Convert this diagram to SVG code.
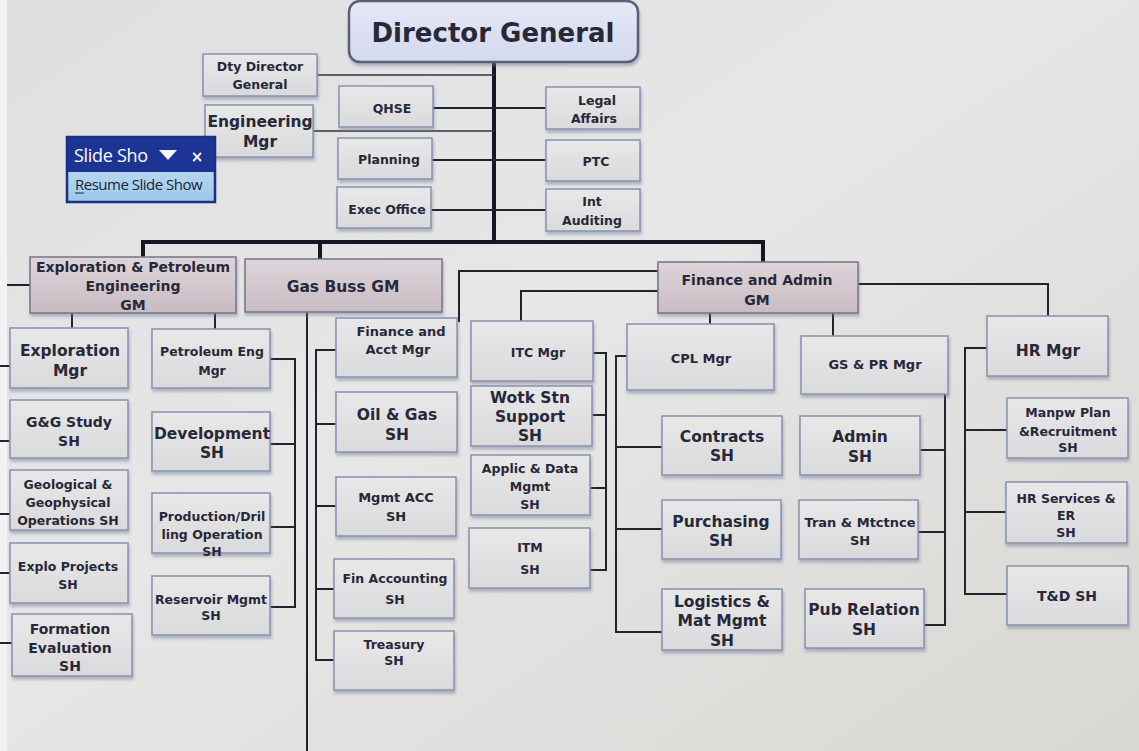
<svg xmlns="http://www.w3.org/2000/svg" width="1139" height="751" viewBox="0 0 1139 751">
  <defs>
    <linearGradient id="bg" x1="0" y1="0" x2="1" y2="1">
      <stop offset="0" stop-color="#dfdfe0"/>
      <stop offset="0.45" stop-color="#e7e7e7"/>
      <stop offset="1" stop-color="#d9d7d2"/>
    </linearGradient>
    <linearGradient id="boxFill" x1="0" y1="0" x2="0" y2="1">
      <stop offset="0" stop-color="#e8e8e9"/>
      <stop offset="1" stop-color="#dadadc"/>
    </linearGradient>
    <linearGradient id="gmFill" x1="0" y1="0" x2="0" y2="1">
      <stop offset="0" stop-color="#ddd5d9"/>
      <stop offset="1" stop-color="#c8bcc2"/>
    </linearGradient>
    <linearGradient id="dgFill" x1="0" y1="0" x2="0" y2="1">
      <stop offset="0" stop-color="#e6e8f6"/>
      <stop offset="1" stop-color="#d4d8ee"/>
    </linearGradient>
    <linearGradient id="popFill" x1="0" y1="0" x2="0" y2="1">
      <stop offset="0" stop-color="#d2e6f6"/>
      <stop offset="1" stop-color="#9cc8ea"/>
    </linearGradient>
    <filter id="shadow" x="-10%" y="-10%" width="120%" height="130%">
      <feDropShadow dx="1" dy="3" stdDeviation="1.5" flood-color="#6a7496" flood-opacity="0.45"/>
    </filter>
    <style>
      .box { fill: url(#boxFill); stroke: #8c96b2; stroke-width: 1.6; filter: url(#shadow); }
      .gm { fill: url(#gmFill); stroke: #7c7a8c; stroke-width: 1.6; filter: url(#shadow); }
      .t { font-family: "DejaVu Sans", Verdana, sans-serif; font-weight: bold; fill: #272838; text-anchor: middle; }
      .s { font-size: 12.5px; }
      .m { font-size: 14px; }
      .l { font-size: 15.5px; }
      .ln { fill: none; stroke: #22232e; stroke-width: 2; }
      .thin { fill: none; stroke: #33343e; stroke-width: 1.3; }
      .bold { fill: none; stroke: #161722; stroke-width: 4; }
    </style>
  </defs>

  <!-- backdrop -->
  <rect x="0" y="0" width="1139" height="751" fill="url(#bg)"/>
  <rect x="0" y="0" width="7" height="751" fill="#f2f2f2"/>

  <!-- connectors -->
  <g id="connectors">
    <!-- top spine and main bar -->
    <path class="bold" d="M494 62 V242"/>
    <path class="bold" d="M141 242 H765"/>
    <path class="bold" d="M143 240 V258 M320 240 V260 M763 240 V263"/>
    <!-- staff lines -->
    <path class="thin" d="M317 75 H494 M313 131 H494"/>
    <path class="ln" d="M433 108 H546 M432 160 H546 M431 210 H546"/>
    <!-- exploration GM -->
    <path class="ln" d="M7 285 H30 M72 313 V328 M215 313 V329"/>
    <path class="ln" d="M0 366 H10 M0 441 H10 M0 514 H10 M0 573 H10 M0 643 H12"/>
    <path class="ln" d="M270 359 H295 V607 H270 M270 444 H295 M270 527 H295"/>
    <!-- gas business -->
    <path class="ln" d="M307 312 V751"/>
    <path class="ln" d="M336 350 H316 V660 H334 M316 424 H336 M316 506 H336 M316 589 H334"/>
    <!-- finance and admin GM -->
    <path class="ln" d="M658 271 H459 V322 M658 291 H521 V321"/>
    <path class="ln" d="M858 284 H1048 V317"/>
    <path class="ln" d="M710 313 V324 M833 313 V336"/>
    <!-- ITC -->
    <path class="ln" d="M593 353 H606 V570 H590 M592 415 H606 M590 488 H606"/>
    <!-- CPL -->
    <path class="ln" d="M627 356 H616 V632 H662 M616 447 H662 M616 529 H662"/>
    <!-- GS and PR -->
    <path class="ln" d="M936 357 H945 V625 H924 M920 450 H945 M918 532 H945"/>
    <!-- HR -->
    <path class="ln" d="M987 348 H965 V594 H1007 M965 430 H1007 M965 512 H1006"/>
  </g>

  <!-- top level -->
  <g id="director-general">
    <rect x="349" y="1" width="289" height="61" rx="11" fill="url(#dgFill)" stroke="#5a6078" stroke-width="2.5" filter="url(#shadow)"/>
    <text class="t" x="493" y="42" font-size="26">Director General</text>
  </g>
  <g id="dty-director">
    <rect class="box" x="203" y="54" width="114" height="42"/>
    <text class="t s" x="260" y="71">Dty Director</text>
    <text class="t s" x="260" y="89">General</text>
  </g>
  <g id="engineering-mgr">
    <rect class="box" x="205" y="105" width="108" height="52"/>
    <text class="t l" x="260" y="127">Engineering</text>
    <text class="t l" x="260" y="147">Mgr</text>
  </g>
  <g id="qhse">
    <rect class="box" x="339" y="86" width="94" height="41"/>
    <text class="t s" x="392" y="113">QHSE</text>
  </g>
  <g id="planning">
    <rect class="box" x="338" y="138" width="94" height="41"/>
    <text class="t s" x="389" y="164">Planning</text>
  </g>
  <g id="exec-office">
    <rect class="box" x="337" y="187" width="94" height="41"/>
    <text class="t s" x="387" y="214">Exec Office</text>
  </g>
  <g id="legal-affairs">
    <rect class="box" x="546" y="87" width="94" height="42"/>
    <text class="t s" x="597" y="105">Legal</text>
    <text class="t s" x="594" y="123">Affairs</text>
  </g>
  <g id="ptc">
    <rect class="box" x="546" y="140" width="94" height="41"/>
    <text class="t s" x="596" y="166">PTC</text>
  </g>
  <g id="int-auditing">
    <rect class="box" x="546" y="189" width="94" height="42"/>
    <text class="t s" x="592" y="206">Int</text>
    <text class="t s" x="592" y="225">Auditing</text>
  </g>

  <!-- general managers -->
  <g id="exploration-gm">
    <rect class="gm" x="30" y="257" width="206" height="56"/>
    <text class="t m" x="133" y="272">Exploration &amp; Petroleum</text>
    <text class="t m" x="133" y="291">Engineering</text>
    <text class="t m" x="133" y="310">GM</text>
  </g>
  <g id="gas-buss-gm">
    <rect class="gm" x="245" y="259" width="197" height="53"/>
    <text class="t l" x="343" y="292">Gas Buss GM</text>
  </g>
  <g id="finance-admin-gm">
    <rect class="gm" x="658" y="262" width="200" height="51"/>
    <text class="t m" x="757" y="285">Finance and Admin</text>
    <text class="t m" x="757" y="305">GM</text>
  </g>

  <!-- exploration branch -->
  <g id="exploration-mgr">
    <rect class="box" x="10" y="328" width="118" height="60"/>
    <text class="t l" x="70" y="356">Exploration</text>
    <text class="t l" x="70" y="376">Mgr</text>
  </g>
  <g id="gg-study">
    <rect class="box" x="10" y="400" width="118" height="58"/>
    <text class="t m" x="69" y="427">G&amp;G Study</text>
    <text class="t m" x="69" y="446">SH</text>
  </g>
  <g id="geological-ops">
    <rect class="box" x="10" y="470" width="118" height="60"/>
    <text class="t s" x="68" y="489">Geological &amp;</text>
    <text class="t s" x="68" y="507">Geophysical</text>
    <text class="t s" x="68" y="525">Operations SH</text>
  </g>
  <g id="explo-projects">
    <rect class="box" x="10" y="543" width="118" height="60"/>
    <text class="t s" x="68" y="571">Explo Projects</text>
    <text class="t s" x="68" y="589">SH</text>
  </g>
  <g id="formation-evaluation">
    <rect class="box" x="12" y="614" width="120" height="62"/>
    <text class="t m" x="70" y="634">Formation</text>
    <text class="t m" x="70" y="653">Evaluation</text>
    <text class="t m" x="70" y="671">SH</text>
  </g>

  <!-- petroleum engineering branch -->
  <g id="petroleum-eng-mgr">
    <rect class="box" x="152" y="329" width="118" height="59"/>
    <text class="t s" x="212" y="356">Petroleum Eng</text>
    <text class="t s" x="212" y="375">Mgr</text>
  </g>
  <g id="development">
    <rect class="box" x="152" y="412" width="118" height="59"/>
    <text class="t l" x="212" y="439">Development</text>
    <text class="t l" x="212" y="458">SH</text>
  </g>
  <g id="production-drilling">
    <rect class="box" x="152" y="493" width="118" height="60"/>
    <text class="t s" x="212" y="521">Production/Dril</text>
    <text class="t s" x="212" y="539">ling Operation</text>
    <text class="t s" x="212" y="556">SH</text>
  </g>
  <g id="reservoir-mgmt">
    <rect class="box" x="152" y="576" width="118" height="59"/>
    <text class="t s" x="211" y="604">Reservoir Mgmt</text>
    <text class="t s" x="211" y="620" font-size="11px">SH</text>
  </g>

  <!-- gas business branch -->
  <g id="finance-acct-mgr">
    <rect class="box" x="336" y="318" width="121" height="59"/>
    <text class="t" x="401" y="336" font-size="13px">Finance and</text>
    <text class="t" x="398" y="354" font-size="13px">Acct Mgr</text>
  </g>
  <g id="oil-gas">
    <rect class="box" x="336" y="392" width="121" height="60"/>
    <text class="t l" x="397" y="420">Oil &amp; Gas</text>
    <text class="t l" x="397" y="440">SH</text>
  </g>
  <g id="mgmt-acc">
    <rect class="box" x="336" y="477" width="120" height="59"/>
    <text class="t" x="396" y="502" font-size="13px">Mgmt ACC</text>
    <text class="t" x="396" y="521" font-size="13px">SH</text>
  </g>
  <g id="fin-accounting">
    <rect class="box" x="334" y="559" width="120" height="59"/>
    <text class="t s" x="395" y="583">Fin Accounting</text>
    <text class="t s" x="395" y="604">SH</text>
  </g>
  <g id="treasury">
    <rect class="box" x="334" y="631" width="120" height="59"/>
    <text class="t s" x="394" y="649">Treasury</text>
    <text class="t s" x="394" y="665">SH</text>
  </g>

  <!-- ITC branch -->
  <g id="itc-mgr">
    <rect class="box" x="471" y="321" width="122" height="60"/>
    <text class="t s" x="538" y="357">ITC Mgr</text>
  </g>
  <g id="wotk-stn-support">
    <rect class="box" x="471" y="386" width="121" height="60"/>
    <text class="t l" x="530" y="403">Wotk Stn</text>
    <text class="t l" x="530" y="422">Support</text>
    <text class="t l" x="530" y="441">SH</text>
  </g>
  <g id="applic-data-mgmt">
    <rect class="box" x="471" y="455" width="119" height="60"/>
    <text class="t s" x="530" y="473">Applic &amp; Data</text>
    <text class="t s" x="530" y="491">Mgmt</text>
    <text class="t s" x="530" y="509">SH</text>
  </g>
  <g id="itm">
    <rect class="box" x="469" y="528" width="121" height="60"/>
    <text class="t s" x="530" y="552">ITM</text>
    <text class="t s" x="530" y="574">SH</text>
  </g>

  <!-- CPL branch -->
  <g id="cpl-mgr">
    <rect class="box" x="627" y="324" width="147" height="66"/>
    <text class="t" x="701" y="363" font-size="13px">CPL Mgr</text>
  </g>
  <g id="contracts">
    <rect class="box" x="662" y="416" width="120" height="59"/>
    <text class="t l" x="722" y="442">Contracts</text>
    <text class="t l" x="722" y="461">SH</text>
  </g>
  <g id="purchasing">
    <rect class="box" x="662" y="500" width="119" height="59"/>
    <text class="t l" x="721" y="527">Purchasing</text>
    <text class="t l" x="721" y="546">SH</text>
  </g>
  <g id="logistics">
    <rect class="box" x="662" y="589" width="120" height="61"/>
    <text class="t l" x="722" y="607">Logistics &amp;</text>
    <text class="t l" x="722" y="626">Mat Mgmt</text>
    <text class="t l" x="722" y="646">SH</text>
  </g>

  <!-- GS and PR branch -->
  <g id="gs-pr-mgr">
    <rect class="box" x="801" y="336" width="147" height="58"/>
    <text class="t" x="875" y="369" font-size="13px">GS &amp; PR Mgr</text>
  </g>
  <g id="admin">
    <rect class="box" x="800" y="416" width="120" height="59"/>
    <text class="t l" x="860" y="442">Admin</text>
    <text class="t l" x="860" y="462">SH</text>
  </g>
  <g id="tran-mtctnce">
    <rect class="box" x="799" y="500" width="119" height="59"/>
    <text class="t" x="860" y="527" font-size="13px">Tran &amp; Mtctnce</text>
    <text class="t" x="860" y="545" font-size="13px">SH</text>
  </g>
  <g id="pub-relation">
    <rect class="box" x="805" y="589" width="119" height="59"/>
    <text class="t l" x="864" y="615">Pub Relation</text>
    <text class="t l" x="864" y="635">SH</text>
  </g>

  <!-- HR branch -->
  <g id="hr-mgr">
    <rect class="box" x="987" y="316" width="121" height="60"/>
    <text class="t l" x="1048" y="356">HR Mgr</text>
  </g>
  <g id="manpower-plan">
    <rect class="box" x="1007" y="398" width="121" height="60"/>
    <text class="t s" x="1068" y="417">Manpw Plan</text>
    <text class="t s" x="1068" y="436">&amp;Recruitment</text>
    <text class="t s" x="1068" y="452">SH</text>
  </g>
  <g id="hr-services">
    <rect class="box" x="1006" y="482" width="121" height="61"/>
    <text class="t s" x="1066" y="503">HR Services &amp;</text>
    <text class="t s" x="1066" y="520">ER</text>
    <text class="t s" x="1066" y="537">SH</text>
  </g>
  <g id="td">
    <rect class="box" x="1007" y="566" width="121" height="59"/>
    <text class="t m" x="1067" y="601">T&amp;D SH</text>
  </g>

  <!-- presentation toolbar overlay -->
  <g id="slide-show-toolbar">
    <rect x="67" y="137" width="148" height="65" fill="url(#popFill)" stroke="#1a2f86" stroke-width="2.5"/>
    <rect x="68" y="138" width="146" height="34" fill="#1c3494"/>
    <text x="74" y="162" font-family="'Open Sans', 'DejaVu Sans', sans-serif" font-size="18" fill="#ffffff" letter-spacing="-0.3">Slide Sho</text>
    <path d="M159 150 H177 L168 160 Z" fill="#ffffff"/>
    <text x="197" y="162" font-family="'DejaVu Sans', sans-serif" font-size="15" font-weight="bold" fill="#ffffff" text-anchor="middle">×</text>
    <text x="75" y="190" font-family="'Open Sans', 'DejaVu Sans', sans-serif" font-size="15" fill="#1c2238" letter-spacing="-0.5">Resume Slide Show</text>
    <path d="M75 193 H84" stroke="#1c2238" stroke-width="1"/>
  </g>
</svg>
